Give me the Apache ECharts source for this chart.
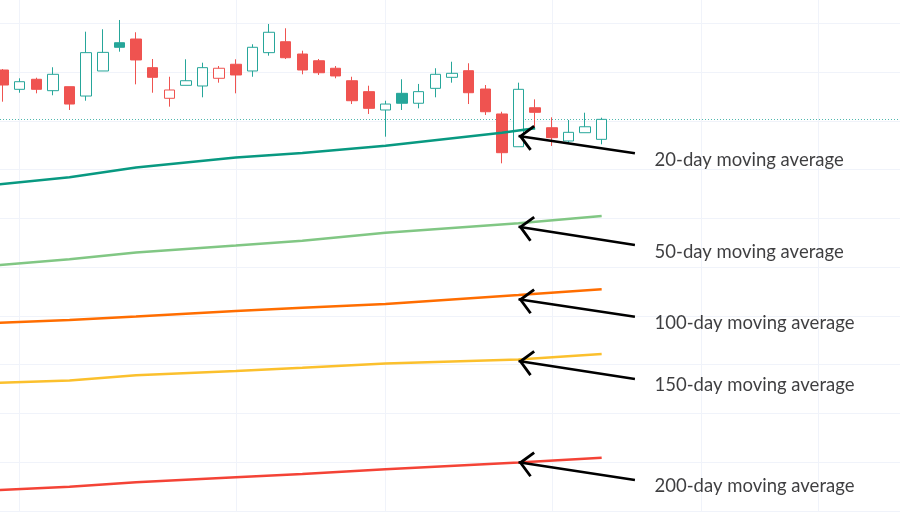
<!DOCTYPE html>
<html><head><meta charset="utf-8">
<script src="https://cdn.jsdelivr.net/npm/echarts@6/dist/echarts.min.js"></script>
<style>html,body{margin:0;padding:0;background:#fff}#c{width:900px;height:512px}</style>
</head><body><div id="c"></div>
<script>
// ---- data (price values) ----
const opens  = [150.21,148.23,149.26,148.09,148.50,147.54,150.11,153.01,153.39,150.45,147.31,148.64,148.57,149.36,150.80,150.11,151.99,153.11,151.85,151.16,150.39,149.11,147.99,146.11,147.82,146.80,148.33,149.46,150.14,148.26,145.70,142.34,146.34,144.29,142.93,143.78,143.10];
const closes = [148.67,149.01,148.23,149.77,146.72,151.99,152.02,152.54,151.24,149.46,148.16,149.11,150.45,150.39,149.70,152.54,154.08,151.47,150.21,149.93,149.60,147.06,146.28,146.72,146.80,147.99,149.77,149.87,147.88,145.93,141.73,148.23,145.87,143.27,143.82,144.39,145.15];
const lows   = [146.96,147.88,147.82,147.62,146.11,147.06,150.11,152.09,148.74,147.88,146.45,148.64,147.41,148.91,147.82,149.52,151.68,151.34,149.77,149.70,149.36,146.72,145.70,143.37,146.11,146.28,147.41,148.91,146.72,145.60,140.64,142.34,144.13,142.42,142.69,143.78,142.59];
const highs  = [150.31,149.36,149.42,150.49,148.50,154.14,154.39,155.34,154.08,151.34,149.52,151.31,150.96,150.62,151.31,152.85,154.93,154.49,152.19,151.34,150.62,149.52,148.60,147.06,149.26,148.78,150.39,151.06,150.90,148.67,145.93,148.91,147.20,145.36,145.08,145.83,145.32];

// moving averages: [bar index, value]
const ma20  = [[-1,138.35],[4,139.21],[8,140.21],[14,141.24],[18,141.69],[23,142.44],[30,143.77],[32,144.23]];
const ma50  = [[-1,130.10],[4,130.80],[8,131.49],[14,132.20],[18,132.69],[23,133.52],[31,134.49],[36,135.24]];
const ma100 = [[-1,124.24],[4,124.57],[8,124.92],[14,125.49],[18,125.83],[23,126.21],[31,127.13],[36,127.72]];
const ma150 = [[-1,118.09],[4,118.36],[8,118.90],[14,119.34],[18,119.68],[23,120.11],[31,120.52],[36,121.08]];
const ma200 = [[-1,107.07],[4,107.48],[8,107.92],[14,108.44],[18,108.78],[23,109.26],[31,109.95],[36,110.45]];

const maNames = ['20-day moving average','50-day moving average','100-day moving average','150-day moving average','200-day moving average'];
const arrowTipVals  = [143.44,134.14,126.69,120.36,109.98];
const arrowTailVals = [141.67,132.26,124.91,118.52,108.16];
const labelVals     = [140.98,131.57,124.23,117.90,107.54];
const arrowTipBar = 31, arrowTailBar = 38, labelBar = 39;

const majorBars = [1,14,23,33,42,49];                          // vertical grid lines (bar index)
const priceTicks = [105,110,115,120,125,130,135,140,145,150,155]; // horizontal grid lines
const xRange = [-0.18, 53.94];    // visible bar range
const yRange = [104.88, 157.39];  // visible price range

// ---- build ----
const UP = '#26a69a', DOWN = '#ef5350';
const candles = opens.map((o, i) => {
  const c = closes[i];
  const prev = i === 0 ? o : closes[i - 1];
  const col = c >= prev ? UP : DOWN;
  const hollow = c > o;
  return {
    value: [i, o, c, lows[i], highs[i]],
    itemStyle: { color: hollow ? '#ffffff' : col, color0: hollow ? '#ffffff' : col,
                 borderColor: col, borderColor0: col, borderWidth: 1 }
  };
});
const lastClose = closes[closes.length - 1];
const GRID = '#f0f3fa';

// open chevron whose tip sits at the centre of its box
const chevron = 'path://M13,0 L13.01,0 L13,0.01 Z M13,15 L26,28 L24,30 L13,19 L2,30 L0,28 Z';
const maSets = [ma20, ma50, ma100, ma150, ma200];
const maColors = ['#089981', '#81c784', '#ff6d00', '#fbc02d', '#f44336'];

const gridLines = majorBars.map(b => ({ xAxis: b }))
  .concat(priceTicks.map(v => ({ yAxis: v })));

const series = [{
  type: 'candlestick', data: candles, barWidth: 11,
  encode: { x: 0, y: [1, 2, 3, 4] },
  markLine: {
    z: 1, silent: true, symbol: ['none', 'none'], label: { show: false },
    lineStyle: { type: 'solid', color: GRID, width: 1 },
    data: gridLines
  }
}];
maSets.forEach((set, k) => {
  series.push({
    type: 'line', name: maNames[k], showSymbol: false, symbol: 'none',
    data: set,
    lineStyle: { color: maColors[k], width: 2.5 },
    markLine: {
      silent: true, symbol: [chevron, 'none'], symbolSize: [26, 30],
      label: { show: false },
      lineStyle: { color: '#000000', width: 2.5, type: 'solid' },
      data: [[{ coord: [arrowTipBar, arrowTipVals[k]] }, { coord: [arrowTailBar, arrowTailVals[k]] }]]
    }
  });
});
series.push({
  type: 'scatter', symbolSize: 0, silent: true,
  itemStyle: { color: '#26a69a' },
  data: labelVals.map((v, k) => ({ value: [labelBar, v], name: maNames[k] })),
  label: { show: true, position: 'right', distance: 3, formatter: p => p.name,
           fontFamily: 'Lato', fontSize: 18.5, color: '#0e0e10' },
  markLine: {
    z: 1, silent: true, symbol: ['none', 'none'], label: { show: false },
    lineStyle: { type: [1, 2], color: '#26a69a', width: 1, opacity: 0.8 },
    data: [{ yAxis: lastClose }]
  }
});

const chart = echarts.init(document.getElementById('c'), null, { renderer: 'canvas' });
chart.setOption({
  animation: false,
  backgroundColor: '#ffffff',
  grid: { left: 0, right: 0, top: 0, bottom: 0, containLabel: false },
  xAxis: {
    type: 'value', min: xRange[0], max: xRange[1],
    axisLine: { show: false }, axisTick: { show: false }, axisLabel: { show: false },
    splitLine: { show: false }
  },
  yAxis: {
    type: 'value', min: yRange[0], max: yRange[1],
    axisLine: { show: false }, axisTick: { show: false }, axisLabel: { show: false },
    splitLine: { show: false }
  },
  series: series
});
</script></body></html>
